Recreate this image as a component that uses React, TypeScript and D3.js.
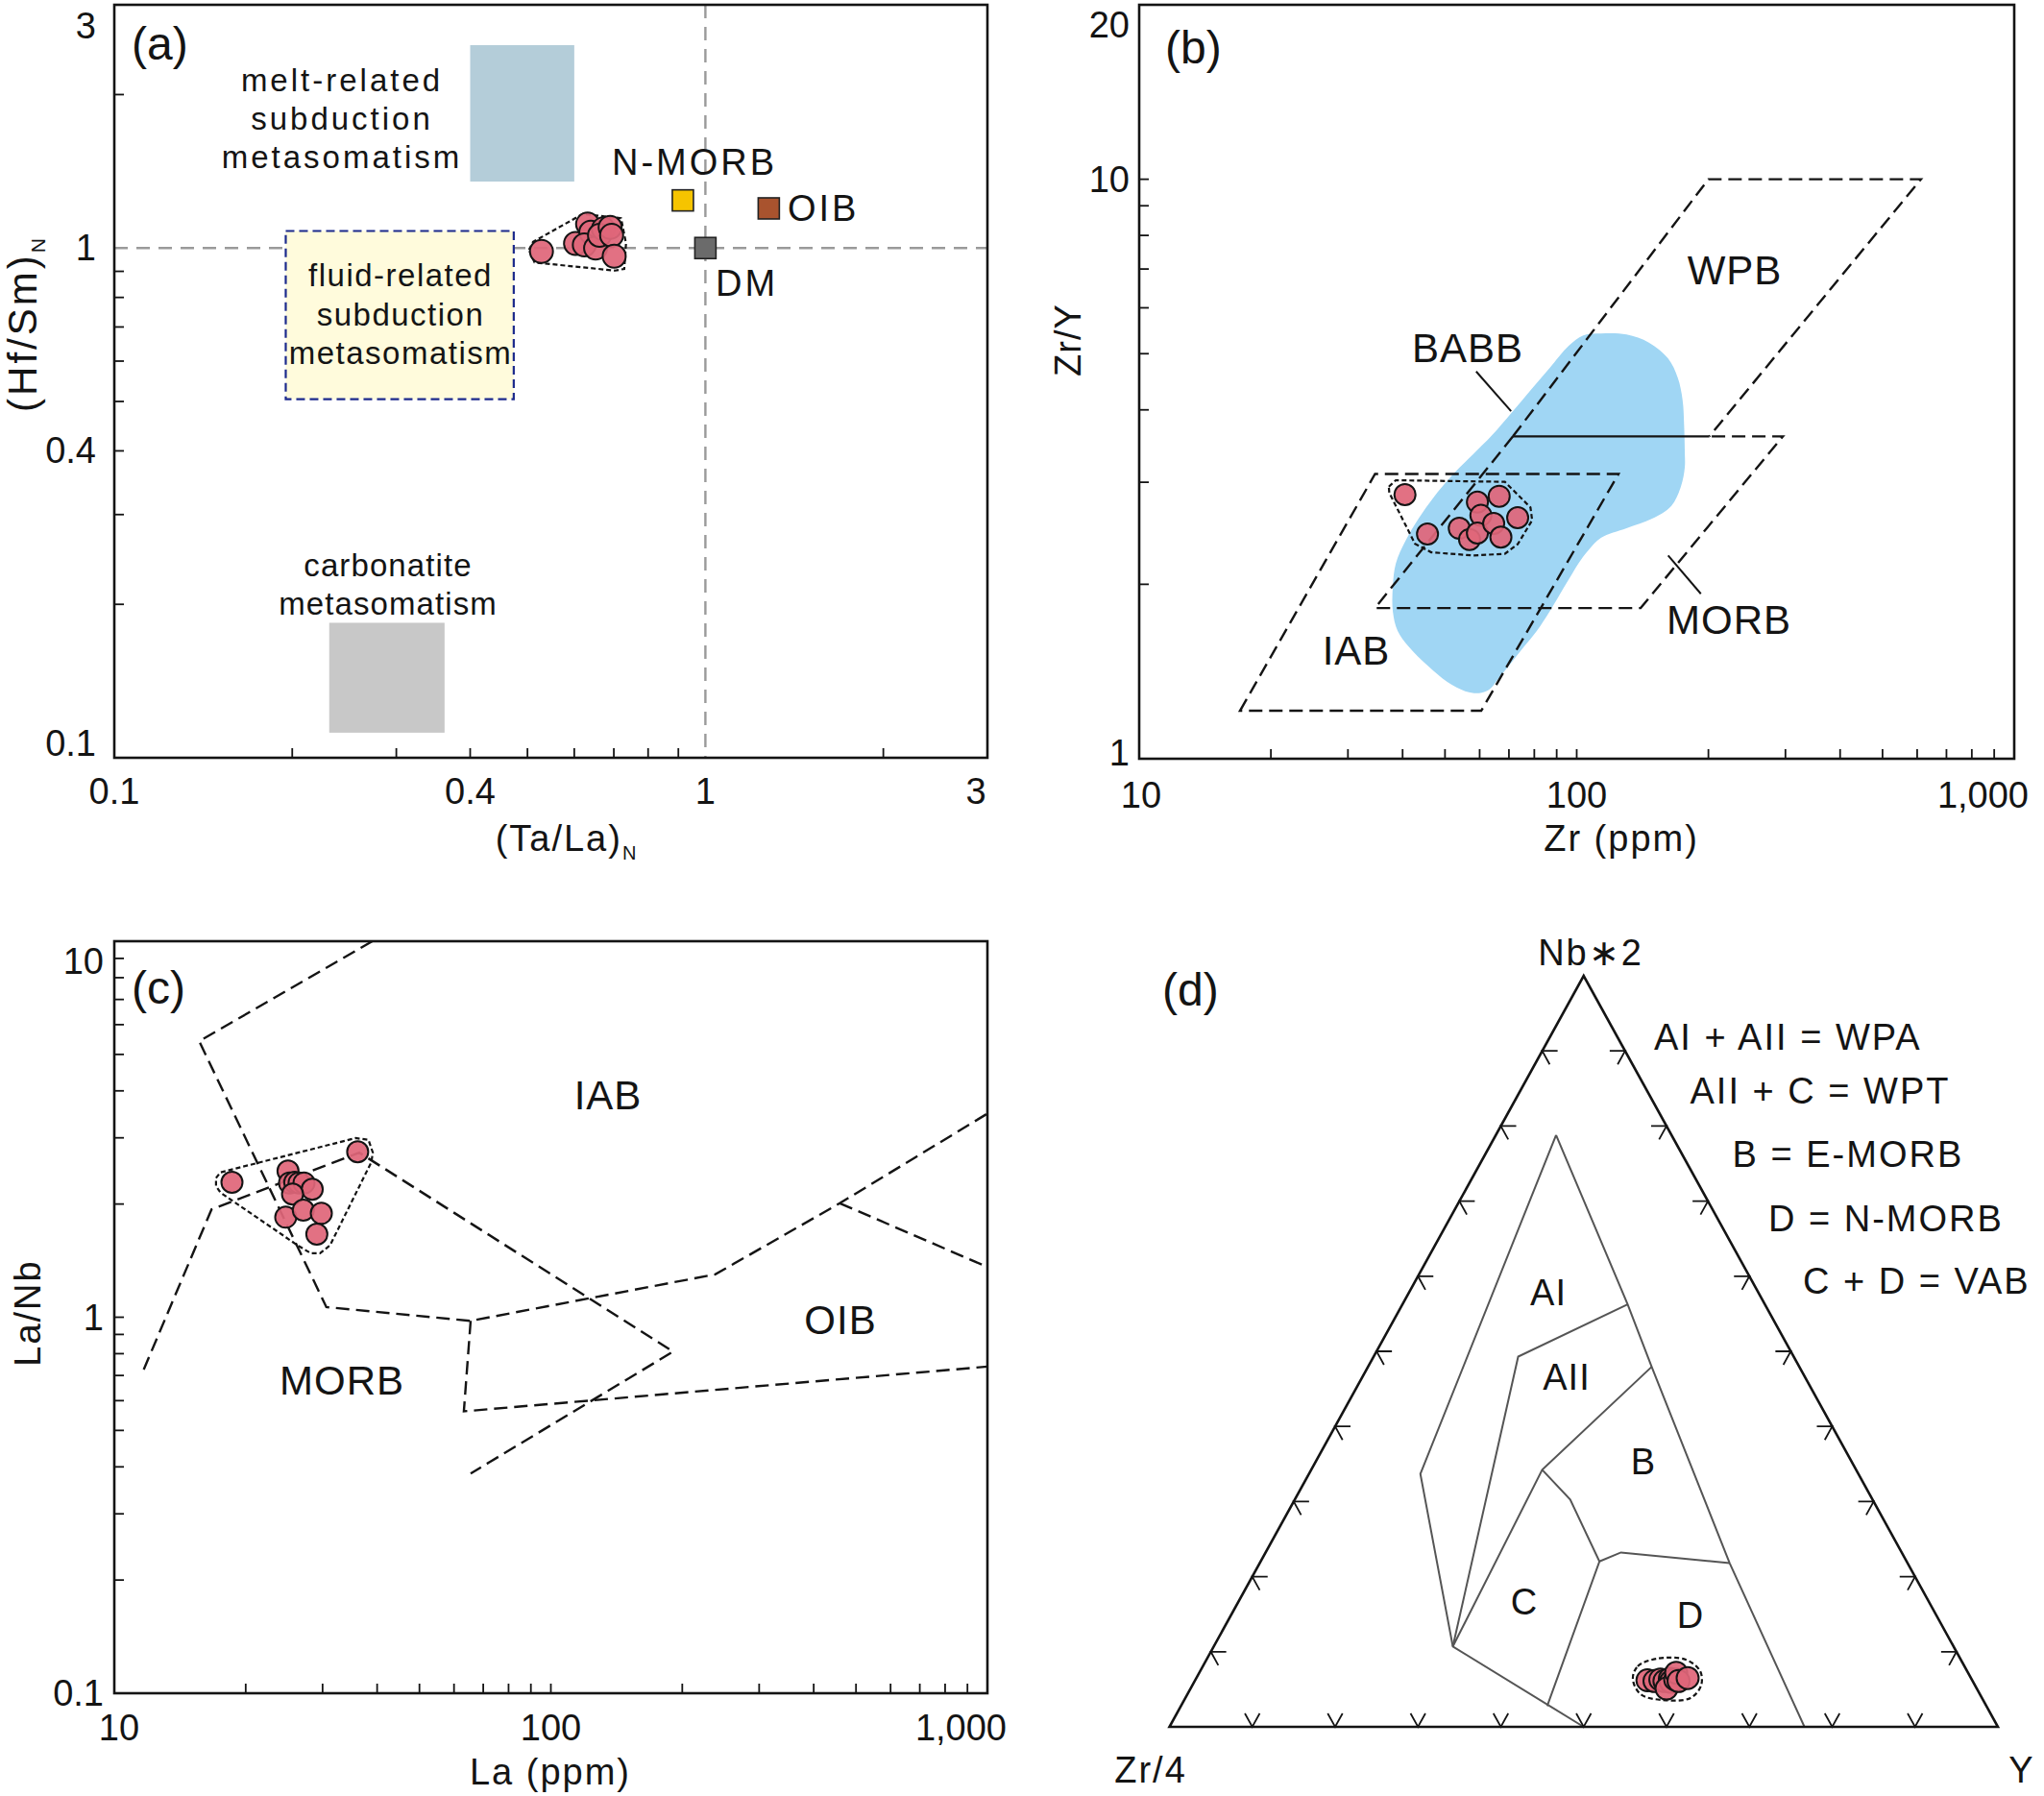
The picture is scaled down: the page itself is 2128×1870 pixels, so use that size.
import React from 'react';
import * as d3 from 'd3';

const FONT = '"Liberation Sans", Arial, Helvetica, sans-serif';
const INK = '#141414';
const PINK = '#e0667a';

// ---------------- Panel (a): (Hf/Sm)N vs (Ta/La)N ----------------
const aSampleTaLa = [0.528, 0.603, 0.632, 0.64, 0.624, 0.652, 0.672, 0.662, 0.69, 0.694, 0.701];
const aSampleHfSm = [0.985, 1.021, 1.114, 1.074, 1.014, 1.0, 1.09, 1.059, 1.098, 1.059, 0.964];
const aHullTaLa = [0.503, 0.511, 0.62, 0.72, 0.734, 0.729, 0.703, 0.514];
const aHullHfSm = [0.992, 1.028, 1.166, 1.144, 1.021, 0.91, 0.903, 0.937];
const aRefNames = ['N-MORB', 'OIB', 'DM'];
const aRefTaLa = [0.916, 1.28, 1.0];
const aRefHfSm = [1.24, 1.196, 1.0];
const aRefColors = ['#f6c400', '#a9532e', '#6b6b6b'];
const aFieldNames = ['melt-related', 'fluid-related', 'carbonatite'];
const aFieldTaLa = [[0.4, 0.6], [0.195, 0.474], [0.231, 0.362]];
const aFieldHfSm = [[1.35, 2.5], [0.505, 1.08], [0.112, 0.184]];
const aFieldFills = ['#b4cdd9', '#fffbdc', '#c8c8c8'];
const aTickValues = [0.1, 0.4, 1, 3];
const aTickLabels = ['0.1', '0.4', '1', '3'];
const aMinorTicks = [0.2, 0.3, 0.4, 0.5, 0.6, 0.7, 0.8, 0.9, 2];

// ---------------- Panel (b): Zr/Y vs Zr ----------------
const bSampleZr = [40.5, 45.6, 53.9, 56.9, 59.3, 60.4, 59.3, 64.6, 66.5, 67.1, 73.3];
const bSampleZrY = [2.856, 2.442, 2.498, 2.39, 2.773, 2.63, 2.452, 2.547, 2.838, 2.412, 2.606];
const bHullZr = [37.2, 38.6, 68.5, 78.4, 79.1, 73.3, 68.5, 57.9, 46.5, 42.7, 37.3];
const bHullZrY = [2.948, 3.024, 3.005, 2.715, 2.579, 2.345, 2.257, 2.243, 2.271, 2.35, 2.875];
const bBabbZr = [103.5, 113.6, 130, 146.2, 161.8, 170.2, 174.6, 176, 176.6, 176.6, 173, 164.6, 148.7, 130, 113.6, 106.2, 100.9, 95.9, 91.2, 86.7, 81.1, 75.8, 70.9, 66.2, 63.0, 59.8, 55.9, 50.6, 45.7, 41.3, 38.96, 38.0, 38.0, 38.6, 40.6, 43.5, 47.3, 52.3, 57.9, 64.0, 70.9, 78.3, 86.7, 95.9];
const bBabbZrY = [5.375, 5.417, 5.396, 5.226, 4.905, 4.544, 4.157, 3.755, 3.391, 3.182, 2.948, 2.732, 2.596, 2.499, 2.405, 2.287, 2.173, 2.039, 1.913, 1.795, 1.663, 1.561, 1.465, 1.374, 1.315, 1.298, 1.306, 1.357, 1.446, 1.561, 1.663, 1.795, 1.988, 2.173, 2.375, 2.596, 2.838, 3.103, 3.349, 3.614, 3.951, 4.318, 4.721, 5.159];
const bIabZr = [17.0, 34.6, 124.6, 60.5];
const bIabZrY = [1.21, 3.1, 3.1, 1.21];
const bMorbZr = [71.5, 34.6, 140, 296, 201];
const bMorbZrY = [3.6, 1.82, 1.82, 3.6, 3.6];
const bWpbZr = [71.5, 200, 612, 201];
const bWpbZrY = [3.6, 10, 10, 3.6];
const bSolidZr = [71.5, 201];
const bSolidZrY = [3.6, 3.6];
const bLeaderBabbZr = [58.9, 70.8];
const bLeaderBabbZrY = [4.66, 3.98];
const bLeaderMorbZr = [161.8, 192.2];
const bLeaderMorbZrY = [2.243, 1.926];
const bXTickValues = [10, 100, 1000];
const bXTickLabels = ['10', '100', '1,000'];
const bYTickValues = [1, 10, 20];
const bYTickLabels = ['1', '10', '20'];
const bXMinor = [20, 30, 40, 50, 60, 70, 80, 90, 100, 200, 300, 400, 500, 600, 700, 800, 900];
const bYMinor = [2, 3, 4, 5, 6, 7, 8, 9, 10];

// ---------------- Panel (c): La/Nb vs La ----------------
const cSampleLa = [18.6, 25.0, 25.2, 25.9, 26.5, 27.2, 28.4, 25.6, 24.7, 27.1, 29.8, 29.1, 36.1];
const cSampleLaNb = [2.285, 2.448, 2.276, 2.285, 2.276, 2.276, 2.189, 2.126, 1.845, 1.927, 1.889, 1.663, 2.754];
const cHullLa = [17.1, 17.5, 35.7, 38.2, 39.1, 38.8, 31.2, 29.6, 28.2, 26.3, 17.5, 17.1];
const cHullLaNb = [2.344, 2.428, 2.995, 2.965, 2.742, 2.585, 1.553, 1.479, 1.479, 1.553, 2.146, 2.232];
const cLine1La = [11.68, 16.7, 36.4, 190.5, 65.5];
const cLine1LaNb = [0.726, 1.935, 2.74, 0.81, 0.384];
const cLine2La = [39.0, 15.65, 30.6, 65.5, 238, 459, 1000];
const cLine2LaNb = [10, 5.42, 1.064, 0.978, 1.3, 2.01, 3.48];
const cLine3La = [459, 1000];
const cLine3LaNb = [2.01, 1.36];
const cLine4La = [65.5, 63.2, 1000];
const cLine4LaNb = [0.978, 0.562, 0.739];
const cXTickValues = [10, 100, 1000];
const cXTickLabels = ['10', '100', '1,000'];
const cYTickValues = [0.1, 1, 10];
const cYTickLabels = ['0.1', '1', '10'];
const cXMinor = [20, 30, 40, 50, 60, 70, 80, 90, 100, 200, 300, 400, 500, 600, 700, 800, 900];
const cYMinor = [0.2, 0.3, 0.4, 0.5, 0.6, 0.7, 0.8, 0.9, 1, 2, 3, 4, 5, 6, 7, 8, 9];

// ---------------- Panel (d): Zr/4 - Nb*2 - Y ternary (fractions) ----------------
const dSampleNb2 = [0.062, 0.061, 0.063, 0.061, 0.064, 0.06, 0.051, 0.063, 0.072, 0.061, 0.065];
const dSampleY = [0.546, 0.555, 0.561, 0.567, 0.572, 0.575, 0.5745, 0.579, 0.5757, 0.584, 0.593];
const dHullNb2 = [0.0639, 0.0806, 0.0908, 0.0895, 0.0742, 0.055, 0.0384, 0.0358, 0.0435];
const dHullY = [0.5274, 0.5249, 0.543, 0.5784, 0.6035, 0.6142, 0.6098, 0.5763, 0.5469];
const dNodeNb2 = [0.788, 0.3368, 0.107, 0, 0, 0.5626, 0.4929, 0.4794, 0.3423, 0.3027, 0.2203, 0.2322, 0.2179, 0.0277];
const dNodeY = [0.0727, 0.1345, 0.2886, 0.5, 0.7665, 0.2718, 0.1745, 0.3424, 0.2788, 0.3324, 0.4089, 0.4289, 0.5673, 0.4421];
const dBoundaries = [
  [0, 1, 2, 3],
  [0, 5, 7, 12, 4],
  [5, 6, 2],
  [7, 8, 2],
  [8, 9, 10, 13],
  [10, 11, 12],
];
const dFieldLabels = ['AI', 'AII', 'B', 'C', 'D'];
const dLegend = ['AI + AII = WPA', 'AII + C = WPT', 'B = E-MORB', 'D = N-MORB', 'C + D = VAB'];
const dTickFractions = [0.1, 0.2, 0.3, 0.4, 0.5, 0.6, 0.7, 0.8, 0.9];

type Box = { x0: number; y0: number; x1: number; y1: number };
type Sc = (v: number) => number;

function pathOf(xs: Sc, ys: Sc, xv: number[], yv: number[], curve: d3.CurveFactory = d3.curveLinear) {
  const gen = d3.line<number>().x((i) => xs(xv[i])).y((i) => ys(yv[i])).curve(curve);
  return gen(d3.range(xv.length)) || '';
}

function Frame({ b }: { b: Box }) {
  return <rect x={b.x0} y={b.y0} width={b.x1 - b.x0} height={b.y1 - b.y0} fill="none" stroke={INK} strokeWidth={2.6} />;
}

function MinorTicks({ xs, ys, b, xv, yv }: { xs: Sc; ys: Sc; b: Box; xv: number[]; yv: number[] }) {
  return (
    <g stroke={INK} strokeWidth={1.8}>
      {xv.map((v, i) => (
        <line key={'x' + i} x1={xs(v)} x2={xs(v)} y1={b.y1} y2={b.y1 - 10} />
      ))}
      {yv.map((v, i) => (
        <line key={'y' + i} x1={b.x0} x2={b.x0 + 10} y1={ys(v)} y2={ys(v)} />
      ))}
    </g>
  );
}

function Dots({ xs, ys, xv, yv, r = 11.5 }: { xs: Sc; ys: Sc; xv: number[]; yv: number[]; r?: number }) {
  return (
    <g>
      {xv.map((v, i) => (
        <circle key={i} cx={xs(v)} cy={ys(yv[i])} r={r} fill={PINK} fillOpacity={0.93} stroke={INK} strokeWidth={2} />
      ))}
    </g>
  );
}

function Lines({ lines, size, ls = 0, x, ys, anchor = 'middle' }: { lines: string[]; size: number; ls?: number; x: number; ys: number[]; anchor?: string }) {
  return (
    <g>
      {lines.map((t, i) => (
        <text key={i} x={x} y={ys[i]} fontSize={size} letterSpacing={ls} textAnchor={anchor as any} fill={INK}>
          {t}
        </text>
      ))}
    </g>
  );
}

const DASH = { fill: 'none', stroke: INK, strokeWidth: 2.4, strokeDasharray: '14 7' };
const HULL = { fill: 'none', stroke: INK, strokeWidth: 2.2, strokeDasharray: '5 3' };

function PanelA() {
  const b: Box = { x0: 119, y0: 5, x1: 1028, y1: 789 };
  const xs = d3.scaleLog().domain([0.1, 3]).range([b.x0, b.x1]);
  const ys = d3.scaleLog().domain([0.1, 3]).range([b.y1, b.y0]);
  const sq = 22;
  return (
    <g>
      <line x1={xs(1)} x2={xs(1)} y1={b.y0} y2={b.y1} stroke="#9a9a9a" strokeWidth={2.4} strokeDasharray="14 9" />
      <line x1={b.x0} x2={b.x1} y1={ys(1)} y2={ys(1)} stroke="#9a9a9a" strokeWidth={2.4} strokeDasharray="14 9" />
      {aFieldNames.map((n, i) => (
        <rect
          key={n}
          x={xs(aFieldTaLa[i][0])}
          y={ys(aFieldHfSm[i][1])}
          width={xs(aFieldTaLa[i][1]) - xs(aFieldTaLa[i][0])}
          height={ys(aFieldHfSm[i][0]) - ys(aFieldHfSm[i][1])}
          fill={aFieldFills[i]}
          stroke={n === 'fluid-related' ? '#1c2a8c' : 'none'}
          strokeWidth={2.2}
          strokeDasharray={n === 'fluid-related' ? '9 5' : undefined}
        />
      ))}
      <Frame b={b} />
      <MinorTicks xs={xs} ys={ys} b={b} xv={aMinorTicks} yv={aMinorTicks} />
      {aTickValues.map((v, i) => (
        <text key={'xl' + i} x={Math.min(Math.max(xs(v), b.x0 - 4), b.x1 - 12)} y={837} fontSize={38} textAnchor="middle" fill={INK}>
          {aTickLabels[i]}
        </text>
      ))}
      {aTickValues.map((v, i) => (
        <text key={'yl' + i} x={b.x0 - 19} y={Math.min(Math.max(ys(v) + 13, b.y0 + 35), b.y1 - 2)} fontSize={38} textAnchor="end" fill={INK}>
          {aTickLabels[i]}
        </text>
      ))}
      <text x={590} y={886} fontSize={38} letterSpacing={2} textAnchor="middle" fill={INK}>
        (Ta/La)<tspan fontSize={20} dy={9}>N</tspan>
      </text>
      <text transform="translate(38,337) rotate(-90)" fontSize={42} letterSpacing={3} textAnchor="middle" fill={INK}>
        (Hf/Sm)<tspan fontSize={21} dy={9}>N</tspan>
      </text>
      <text x={137} y={62} fontSize={48} fill={INK}>(a)</text>
      <Lines lines={['melt-related', 'subduction', 'metasomatism']} size={33} ls={3} x={356} ys={[95, 135, 175]} />
      <Lines lines={['fluid-related', 'subduction', 'metasomatism']} size={33} ls={1.5} x={417} ys={[298, 339, 379]} />
      <Lines lines={['carbonatite', 'metasomatism']} size={33} ls={1.1} x={404} ys={[600, 640]} />
      {aRefNames.map((n, i) => (
        <rect key={n} x={xs(aRefTaLa[i]) - sq / 2} y={ys(aRefHfSm[i]) - sq / 2} width={sq} height={sq} fill={aRefColors[i]} stroke="#222" strokeWidth={1.6} />
      ))}
      <text x={723} y={182} fontSize={38} letterSpacing={3} textAnchor="middle" fill={INK}>N-MORB</text>
      <text x={820} y={230} fontSize={38} letterSpacing={3} fill={INK}>OIB</text>
      <text x={745} y={308} fontSize={38} letterSpacing={3} fill={INK}>DM</text>
      <path d={pathOf(xs, ys, aHullTaLa, aHullHfSm, d3.curveLinearClosed)} {...HULL} />
      <Dots xs={xs} ys={ys} xv={aSampleTaLa} yv={aSampleHfSm} r={12} />
    </g>
  );
}

function PanelB() {
  const b: Box = { x0: 1186, y0: 5, x1: 2097, y1: 790 };
  const xs = d3.scaleLog().domain([10, 1000]).range([b.x0, b.x1]);
  const ys = d3.scaleLog().domain([1, 20]).range([b.y1, b.y0]);
  return (
    <g>
      <path d={pathOf(xs, ys, bBabbZr, bBabbZrY, d3.curveCatmullRomClosed.alpha(0.5))} fill="#a0d6f4" stroke="none" />
      <path d={pathOf(xs, ys, bIabZr, bIabZrY, d3.curveLinearClosed)} {...DASH} />
      <path d={pathOf(xs, ys, bMorbZr, bMorbZrY)} {...DASH} />
      <path d={pathOf(xs, ys, bWpbZr, bWpbZrY)} {...DASH} />
      <path d={pathOf(xs, ys, bSolidZr, bSolidZrY)} fill="none" stroke={INK} strokeWidth={2.4} />
      <path d={pathOf(xs, ys, bLeaderBabbZr, bLeaderBabbZrY)} fill="none" stroke={INK} strokeWidth={2} />
      <path d={pathOf(xs, ys, bLeaderMorbZr, bLeaderMorbZrY)} fill="none" stroke={INK} strokeWidth={2} />
      <Frame b={b} />
      <MinorTicks xs={xs} ys={ys} b={b} xv={bXMinor} yv={bYMinor} />
      {bXTickValues.map((v, i) => (
        <text key={'xl' + i} x={i === 2 ? b.x1 + 15 : xs(v) + (i === 0 ? 2 : 0)} y={841} fontSize={38} textAnchor={i === 2 ? 'end' : 'middle'} fill={INK}>
          {bXTickLabels[i]}
        </text>
      ))}
      {bYTickValues.map((v, i) => (
        <text key={'yl' + i} x={b.x0 - 10} y={Math.min(Math.max(ys(v) + 13, b.y0 + 34), b.y1 + 7)} fontSize={38} textAnchor="end" fill={INK}>
          {bYTickLabels[i]}
        </text>
      ))}
      <text x={1688} y={886} fontSize={38} letterSpacing={2} textAnchor="middle" fill={INK}>Zr (ppm)</text>
      <text transform="translate(1125,354) rotate(-90)" fontSize={38} letterSpacing={1} textAnchor="middle" fill={INK}>Zr/Y</text>
      <text x={1213} y={66} fontSize={48} fill={INK}>(b)</text>
      <text x={1806} y={296} fontSize={42} letterSpacing={1} textAnchor="middle" fill={INK}>WPB</text>
      <text x={1528} y={377} fontSize={42} letterSpacing={1} textAnchor="middle" fill={INK}>BABB</text>
      <text x={1800} y={660} fontSize={42} letterSpacing={1} textAnchor="middle" fill={INK}>MORB</text>
      <text x={1412} y={692} fontSize={42} letterSpacing={1} textAnchor="middle" fill={INK}>IAB</text>
      <path d={pathOf(xs, ys, bHullZr, bHullZrY, d3.curveLinearClosed)} {...HULL} />
      <Dots xs={xs} ys={ys} xv={bSampleZr} yv={bSampleZrY} r={11} />
    </g>
  );
}

function PanelC() {
  const b: Box = { x0: 119, y0: 980, x1: 1028, y1: 1763 };
  const xs = d3.scaleLog().domain([10, 1000]).range([b.x0, b.x1]);
  const ys = d3.scaleLog().domain([0.1, 10]).range([b.y1, b.y0]);
  return (
    <g>
      <path d={pathOf(xs, ys, cLine1La, cLine1LaNb)} {...DASH} />
      <path d={pathOf(xs, ys, cLine2La, cLine2LaNb)} {...DASH} />
      <path d={pathOf(xs, ys, cLine3La, cLine3LaNb)} {...DASH} />
      <path d={pathOf(xs, ys, cLine4La, cLine4LaNb)} {...DASH} />
      <Frame b={b} />
      <MinorTicks xs={xs} ys={ys} b={b} xv={cXMinor} yv={cYMinor} />
      {cXTickValues.map((v, i) => (
        <text key={'xl' + i} x={i === 2 ? b.x1 + 20 : xs(v) + (i === 0 ? 5 : 0)} y={1812} fontSize={38} textAnchor={i === 2 ? 'end' : 'middle'} fill={INK}>
          {cXTickLabels[i]}
        </text>
      ))}
      {cYTickValues.map((v, i) => (
        <text key={'yl' + i} x={b.x0 - 11} y={Math.max(ys(v) + 13, b.y0 + 34)} fontSize={38} textAnchor="end" fill={INK}>
          {cYTickLabels[i]}
        </text>
      ))}
      <text x={573} y={1858} fontSize={38} letterSpacing={2} textAnchor="middle" fill={INK}>La (ppm)</text>
      <text transform="translate(42,1367) rotate(-90)" fontSize={38} letterSpacing={2} textAnchor="middle" fill={INK}>La/Nb</text>
      <text x={137} y={1045} fontSize={48} fill={INK}>(c)</text>
      <text x={633} y={1155} fontSize={42} letterSpacing={1} textAnchor="middle" fill={INK}>IAB</text>
      <text x={356} y={1452} fontSize={42} letterSpacing={1} textAnchor="middle" fill={INK}>MORB</text>
      <text x={875} y={1389} fontSize={42} letterSpacing={1} textAnchor="middle" fill={INK}>OIB</text>
      <path d={pathOf(xs, ys, cHullLa, cHullLaNb, d3.curveLinearClosed)} {...HULL} />
      <Dots xs={xs} ys={ys} xv={cSampleLa} yv={cSampleLaNb} r={11} />
    </g>
  );
}

function PanelD() {
  // cartesian ternary coordinates: u = Y + Nb/2, v = Nb
  const tx = d3.scaleLinear().domain([0, 1]).range([1217.5, 2080]);
  const ty = d3.scaleLinear().domain([0, 1]).range([1798, 1016]);
  const P = (nb: number, y: number): [number, number] => [tx(y + nb / 2), ty(nb)];
  const L = P(0, 0);
  const R = P(0, 1);
  const T = P(1, 0);
  const unit = (a: [number, number], bb: [number, number]) => {
    const dx = bb[0] - a[0];
    const dy = bb[1] - a[1];
    const l = Math.hypot(dx, dy);
    return [dx / l, dy / l];
  };
  const uLT = unit(L, T);
  const uRT = unit(R, T);
  const uTR = unit(T, R);
  const uTL = unit(T, L);
  const len = 16;
  const tickPath = (p: [number, number], d1: number[], d2: number[]) =>
    `M${p[0] + d1[0] * len},${p[1] + d1[1] * len}L${p[0]},${p[1]}L${p[0] + d2[0] * len},${p[1] + d2[1] * len}`;
  const line = d3.line<[number, number]>();
  const nodeP = (k: number) => P(dNodeNb2[k], dNodeY[k]);
  const hull = d3.line<number>().x((i) => P(dHullNb2[i], dHullY[i])[0]).y((i) => P(dHullNb2[i], dHullY[i])[1]).curve(d3.curveCatmullRomClosed);
  const fieldPos: [number, number][] = [
    [1612, 1359],
    [1631, 1447],
    [1711, 1535],
    [1587, 1681],
    [1760, 1695],
  ];
  const legendX = [1722, 1759.5, 1803.6, 1841, 1877];
  const legendY = [1093, 1149, 1215, 1282, 1347];
  return (
    <g>
      <g fill="none" stroke="#555" strokeWidth={2}>
        {dBoundaries.map((seq, i) => (
          <path key={i} d={line(seq.map(nodeP)) || ''} />
        ))}
      </g>
      <path d={line([L, R, T]) + 'Z'} fill="none" stroke={INK} strokeWidth={2.6} strokeLinejoin="miter" />
      <g fill="none" stroke={INK} strokeWidth={1.8}>
        {dTickFractions.map((t, i) => (
          <g key={i}>
            <path d={tickPath(P(0, t), uRT, uLT)} />
            <path d={tickPath(P(t, 0), [1, 0], uTR)} />
            <path d={tickPath(P(t, 1 - t), [-1, 0], uTL)} />
          </g>
        ))}
      </g>
      {dFieldLabels.map((n, i) => (
        <text key={n} x={fieldPos[i][0]} y={fieldPos[i][1]} fontSize={38} letterSpacing={1} textAnchor="middle" fill={INK}>
          {n}
        </text>
      ))}
      {dLegend.map((n, i) => (
        <text key={n} x={legendX[i]} y={legendY[i]} fontSize={38} letterSpacing={2} fill={INK}>
          {n}
        </text>
      ))}
      <text x={1656} y={1005} fontSize={38} letterSpacing={2} textAnchor="middle" fill={INK}>Nb∗2</text>
      <text x={1198} y={1856} fontSize={38} letterSpacing={2} textAnchor="middle" fill={INK}>Zr/4</text>
      <text x={2104} y={1856} fontSize={38} textAnchor="middle" fill={INK}>Y</text>
      <text x={1210} y={1047} fontSize={48} fill={INK}>(d)</text>
      <path d={hull(d3.range(dHullNb2.length)) || ''} {...HULL} />
      <g>
        {dSampleNb2.map((nb, i) => {
          const p = P(nb, dSampleY[i]);
          return <circle key={i} cx={p[0]} cy={p[1]} r={11.5} fill={PINK} fillOpacity={0.93} stroke={INK} strokeWidth={2} />;
        })}
      </g>
    </g>
  );
}

export default function App() {
  return (
    <svg
      width={2128}
      height={1870}
      viewBox="0 0 2128 1870"
      style={{ position: 'absolute', left: 0, top: 0, background: '#fff' }}
      fontFamily={FONT}
    >
      <rect x={0} y={0} width={2128} height={1870} fill="#fff" />
      <PanelA />
      <PanelB />
      <PanelC />
      <PanelD />
    </svg>
  );
}
